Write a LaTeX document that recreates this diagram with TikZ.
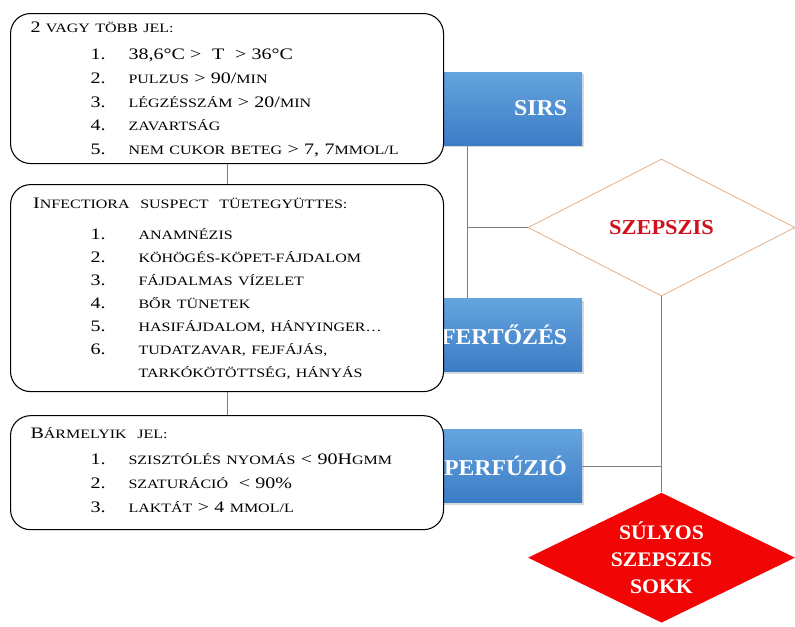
\documentclass[tikz,border=0pt]{standalone}
\usepackage{fontspec}
\setmainfont[FakeStretch=1.25]{Liberation Serif}
\newfontfamily\labelfont[FakeStretch=1.05]{Liberation Serif}
\usetikzlibrary{shapes.geometric,shadows,calc,positioning}
\definecolor{blueTop}{HTML}{64A4DE}
\definecolor{blueBot}{HTML}{3C7CC6}
\definecolor{szRed}{HTML}{D0101C}
\definecolor{szLine}{HTML}{E2B08A}
\definecolor{sokkRed}{HTML}{F20505}
\definecolor{connGray}{HTML}{7F7F7F}
\newcommand*\sm[1]{{\fontsize{9.6}{17.75}\selectfont #1}}

\begin{document}
\begin{tikzpicture}[x=0.75pt,y=-0.75pt,
  listbox/.style={draw, rounded corners=15pt, fill=white, line width=0.8pt,
    text width=294.75pt, inner xsep=15pt, inner ysep=0pt, align=left,
    font=\fontsize{12}{17.75}\selectfont},
  bluebox/.style={shading=axis, top color=blueTop, bottom color=blueBot,
    minimum width=105.75pt, minimum height=54.75pt, inner sep=0pt,
    text width=105.75pt, align=right, text=white,
    font=\labelfont\fontsize{17}{18}\selectfont\bfseries,
    drop shadow={opacity=0.3, shadow xshift=1.5pt, shadow yshift=-1.5pt}},
  decision/.style={diamond, shape aspect=2, inner sep=0pt,
    minimum width=200.25pt, minimum height=102.75pt},
  conn/.style={draw=connGray, line width=0.6pt}]
  \useasboundingbox (0,0) rectangle (795,626);

  % blue boxes first, the list boxes lie over their left edge
  \node[bluebox] (sirs) at (511.5,108.5) {SIRS\hspace*{11.25pt}};
  \node[bluebox] (fert) at (511.5,335) {FERTŐZÉS\hspace*{11.25pt}};
  \node[bluebox] (perf) at (511.5,466) {PERFÚZIÓ\hspace*{11.25pt}};

  \node[listbox, anchor=north west, minimum height=112.5pt] (box1) at (10,13) {%
    \begin{tabular}{@{}p{45pt}@{}p{28.5pt}@{}l@{}}
      \multicolumn{3}{@{}l@{}}{2 \sm{VAGY TÖBB JEL:}}\\[3pt]
      & 1. & 38,6°C > \ T \ > 36°C\\
      & 2. & \sm{PULZUS} > 90/\sm{MIN}\\
      & 3. & \sm{LÉGZÉSSZÁM} > 20/\sm{MIN}\\
      & 4. & \sm{ZAVARTSÁG}\\
      & 5. & \sm{NEM CUKOR BETEG} > 7, 7\sm{MMOL/L}
    \end{tabular}};
  \node[listbox, minimum height=155.25pt, below=15pt of box1,
    font=\fontsize{12}{17.25}\selectfont] (box2) {%
    \begin{tabular}{@{}p{45pt}@{}p{36pt}@{}l@{}}
      \multicolumn{3}{@{}l@{}}{\,I\sm{NFECTIORA \ SUSPECT \ TÜETEGYÜTTES:}}\\[6pt]
      & 1. & \sm{ANAMNÉZIS}\\
      & 2. & \sm{KÖHÖGÉS-KÖPET-FÁJDALOM}\\
      & 3. & \sm{FÁJDALMAS VÍZELET}\\
      & 4. & \sm{BŐR TÜNETEK}\\
      & 5. & \sm{HASIFÁJDALOM, HÁNYINGER…}\\
      & 6. & \sm{TUDATZAVAR, FEJFÁJÁS,}\\
      &    & \sm{TARKÓKÖTÖTTSÉG, HÁNYÁS}
    \end{tabular}};
  \node[listbox, minimum height=85.5pt, below=17.25pt of box2] (box3) {%
    \begin{tabular}{@{}p{45pt}@{}p{28.5pt}@{}l@{}}
      \multicolumn{3}{@{}l@{}}{B\sm{ÁRMELYIK \ JEL:}}\\[2pt]
      & 1. & \sm{SZISZTÓLÉS NYOMÁS} < 90H\sm{GMM}\\
      & 2. & \sm{SZATURÁCIÓ} \ < 90\%\\
      & 3. & \sm{LAKTÁT} > 4 \sm{MMOL/L}
    \end{tabular}\vspace*{3pt}};

  \node[decision, draw=szLine, line width=0.6pt, fill=white, text=szRed,
    font=\labelfont\fontsize{16}{18}\selectfont\bfseries] (szepszis) at (661.5,227.5) {SZEPSZIS};
  \node[decision, fill=sokkRed, text=white, minimum height=97.5pt, align=center,
    font=\labelfont\fontsize{15.5}{20.5}\selectfont\bfseries,
    below=147pt of szepszis] (sokk) {SÚLYOS\\SZEPSZIS\\SOKK};

  \coordinate (trunk) at ($(sirs.south west)+(27,0)$);
  \path[conn]
    (box1.south) -- (box2.north)
    (box2.south) -- (box3.north)
    (trunk) -- (trunk |- fert.north)
    (szepszis.west) -- (szepszis.west -| trunk)
    (szepszis.south) -- (sokk.north)
    (perf.east) -- (perf.east -| sokk.north);
\end{tikzpicture}
\end{document}
